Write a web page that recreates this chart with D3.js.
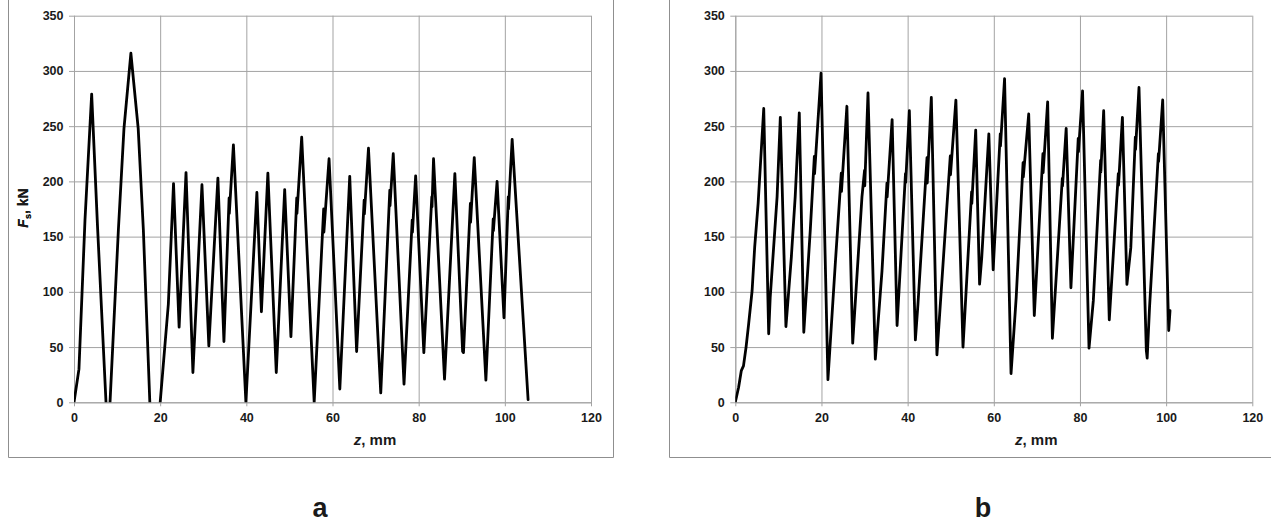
<!DOCTYPE html>
<html>
<head>
<meta charset="utf-8">
<script src="https://cdn.jsdelivr.net/npm/d3@7"></script>
<style>
  html, body { margin: 0; padding: 0; background: #fff; }
  svg { display: block; }
</style>
</head>
<body>
<svg id="chart" width="1271" height="523"></svg>
<script>
// Axis ticks shared by both panels
const xTicks = [0, 20, 40, 60, 80, 100, 120];
const yTicks = [0, 50, 100, 150, 200, 250, 300, 350];
const panelLabels = ["a", "b"];

// Panel a: stroke position z (mm) and force Fs (kN)
const zA = [0, 1.15, 2.55, 4.1, 5.45, 7.43, 7.9, 8.36, 10.3, 11.6,
  13.2, 14.9, 16.1, 17.6, 18.5, 20.0, 21.9, 23.1, 24.4, 26.0,
  27.6, 29.7, 31.3, 33.4, 34.8, 36.0, 36.05, 37.0, 39.9, 42.45,
  43.5, 45.0, 46.95, 48.9, 50.35, 51.7, 51.75, 52.85, 55.75, 57.95,
  58.0, 59.2, 61.7, 64.0, 65.6, 67.35, 67.4, 68.35, 71.2, 73.3,
  73.35, 74.1, 76.6, 78.5, 78.55, 79.3, 81.2, 83.05, 83.1, 83.45,
  86.0, 88.4, 90.2, 90.4, 92.0, 92.05, 92.9, 95.6, 97.3, 97.35,
  98.2, 99.8, 100.8, 100.85, 101.7, 105.4];
const fA = [0, 30, 165, 279, 160, 0, -30, 0, 156, 248,
  316, 248, 156, 0, -60, 0, 89, 198, 68, 208,
  27, 197, 51, 203, 55, 185, 171, 233, 0, 190,
  82, 207.5, 27, 192.5, 59.5, 185, 171, 240, 0, 175,
  154, 220.5, 12, 204.5, 46, 183, 170.5, 230, 8.5, 192,
  178, 225, 16.5, 165, 154, 205, 45, 186, 177, 220.5,
  21, 207, 46, 45, 180, 163, 221.5, 20, 166, 155.5,
  200, 76.5, 186, 175, 238, 2.4];

// Panel b: stroke position z (mm) and force Fs (kN)
const zB = [0, 0.77, 1.4, 1.9, 2.5, 3.1, 3.9, 4.5, 5.3, 5.8,
  6.6, 7.75, 8.1, 9.7, 10.45, 11.75, 13.0, 13.9, 14.85, 15.9,
  17.4, 18.35, 18.4, 19.9, 21.5, 23.2, 24.6, 24.65, 25.9, 27.25,
  29.4, 30.0, 30.05, 30.8, 32.5, 34.05, 35.2, 35.25, 36.4, 37.55,
  39.5, 39.55, 40.4, 41.8, 42.4, 44.5, 44.55, 45.5, 46.8, 49.9,
  49.95, 51.2, 52.85, 54.85, 54.9, 55.8, 56.7, 57.2, 58.85, 59.85,
  61.5, 61.55, 62.5, 64.0, 65.2, 66.8, 66.85, 68.1, 69.4, 71.4,
  71.45, 72.5, 73.6, 75.9, 75.95, 76.8, 77.9, 79.6, 79.65, 80.6,
  82.1, 83.1, 84.8, 84.85, 85.5, 86.8, 88.9, 88.95, 89.85, 90.9,
  91.8, 92.85, 92.9, 93.7, 95.4, 95.6, 96.15, 98.2, 98.25, 99.2,
  100.6, 100.9];
const fB = [0, 13.6, 28.7, 33, 50, 71, 101, 140.5, 180, 213,
  266, 62, 95, 186, 258, 68.6, 131, 186, 262, 63.4,
  155.6, 222.7, 207, 298, 20.5, 125, 207.5, 191, 268, 53.5,
  186, 210, 196, 280, 39, 119, 198.5, 186, 256, 69.5,
  207, 199, 264, 56.5, 89, 221.5, 198.5, 276, 43, 223,
  206, 273.6, 50, 190.5, 180, 246.4, 107, 131, 243, 120,
  243, 232, 293, 26, 95, 217, 204, 261, 78.6, 225,
  208, 272, 58, 202.6, 196, 248, 103.7, 239, 227, 282,
  49, 92, 219, 208.6, 264, 74.7, 207, 196.5, 258, 106.7,
  140, 240, 229, 285, 47, 40, 86, 225, 218, 273.7,
  65, 83];

const series = [
  { z: zA, f: fA },
  { z: zB, f: fB }
];

// Layout of each panel: outer frame and plot area
const layout = [
  { frameLeft: 8.5, frameRight: 613.5, plotLeft: 74, labelX: 320 },
  { frameLeft: 669.5, frameRight: 1290, plotLeft: 735.3, labelX: 983 }
];
const plotW = 517, plotTop = 15.7, plotBottom = 402.3, frameBottom = 457.5;
const gridColor = "#a3a3a3";
const textColor = "#1a1a1a";
const font = "'Liberation Sans', Arial, sans-serif";

const svg = d3.select("#chart");
svg.append("rect").attr("width", 1271).attr("height", 523).attr("fill", "#fff");

series.forEach((s, i) => {
  const L = layout[i];
  const g = svg.append("g");

  // outer frame (top edge lies above the visible area)
  g.append("path")
    .attr("d", `M${L.frameLeft},-5 V${frameBottom} H${L.frameRight} V-5`)
    .attr("fill", "none").attr("stroke", "#8f8f8f").attr("stroke-width", 1);

  const x = d3.scaleLinear().domain([0, 120]).range([L.plotLeft, L.plotLeft + plotW]);
  const y = d3.scaleLinear().domain([0, 350]).range([plotBottom, plotTop]);

  // y axis with horizontal gridlines
  const yAxis = g.append("g")
    .attr("transform", `translate(${L.plotLeft},0)`)
    .call(d3.axisLeft(y).tickValues(yTicks).tickSizeInner(-plotW).tickSizeOuter(0).tickPadding(10.5));
  yAxis.select(".domain").attr("stroke", gridColor);
  yAxis.selectAll(".tick line").attr("x1", -5).attr("stroke", gridColor);
  yAxis.selectAll(".tick text")
    .attr("fill", textColor).style("font-family", font)
    .style("font-size", "12.5px").style("font-weight", "bold");

  // x axis with vertical gridlines
  const xAxis = g.append("g")
    .attr("transform", `translate(0,${plotBottom})`)
    .call(d3.axisBottom(x).tickValues(xTicks).tickSizeInner(-(plotBottom - plotTop)).tickSizeOuter(0).tickPadding(10.5));
  xAxis.select(".domain").attr("stroke", gridColor);
  xAxis.selectAll(".tick line").attr("y1", 4).attr("stroke", gridColor);
  xAxis.selectAll(".tick text")
    .attr("fill", textColor).style("font-family", font)
    .style("font-size", "12.5px").style("font-weight", "bold");

  // force curve, clipped to the plot area
  const clipId = "clip" + i;
  svg.append("clipPath").attr("id", clipId)
    .append("rect")
    .attr("x", L.plotLeft).attr("y", plotTop - 3)
    .attr("width", plotW).attr("height", plotBottom - plotTop + 3);

  const pts = d3.zip(s.z, s.f);
  const line = d3.line().x(d => x(d[0])).y(d => y(d[1]));
  g.append("path")
    .datum(pts)
    .attr("clip-path", `url(#${clipId})`)
    .attr("d", line)
    .attr("fill", "none")
    .attr("stroke", "#000")
    .attr("stroke-width", 2.8)
    .attr("stroke-linejoin", "round")
    .attr("stroke-linecap", "round");

  // y axis title: Fs, kN
  const yt = g.append("text")
    .attr("transform", `translate(28,${(plotTop + plotBottom) / 2 - 1}) rotate(-90)`)
    .attr("text-anchor", "middle")
    .attr("fill", textColor)
    .style("font-family", font).style("font-size", "14px").style("font-weight", "bold");
  yt.append("tspan").text("F").style("font-style", "italic");
  yt.append("tspan").text("s").attr("dy", 3).style("font-size", "9px");
  yt.append("tspan").text(", kN").attr("dy", -3);

  // x axis title: z, mm
  const xt = g.append("text")
    .attr("x", L.plotLeft + 301).attr("y", 445)
    .attr("text-anchor", "middle")
    .attr("fill", textColor)
    .style("font-family", font).style("font-size", "15px").style("font-weight", "bold");
  xt.append("tspan").text("z").style("font-style", "italic");
  xt.append("tspan").text(", mm");

  // panel letter
  g.append("text")
    .attr("x", L.labelX).attr("y", 517)
    .attr("text-anchor", "middle")
    .attr("fill", textColor)
    .style("font-family", font).style("font-size", "27px").style("font-weight", "bold")
    .text(panelLabels[i]);
});
</script>
</body>
</html>
